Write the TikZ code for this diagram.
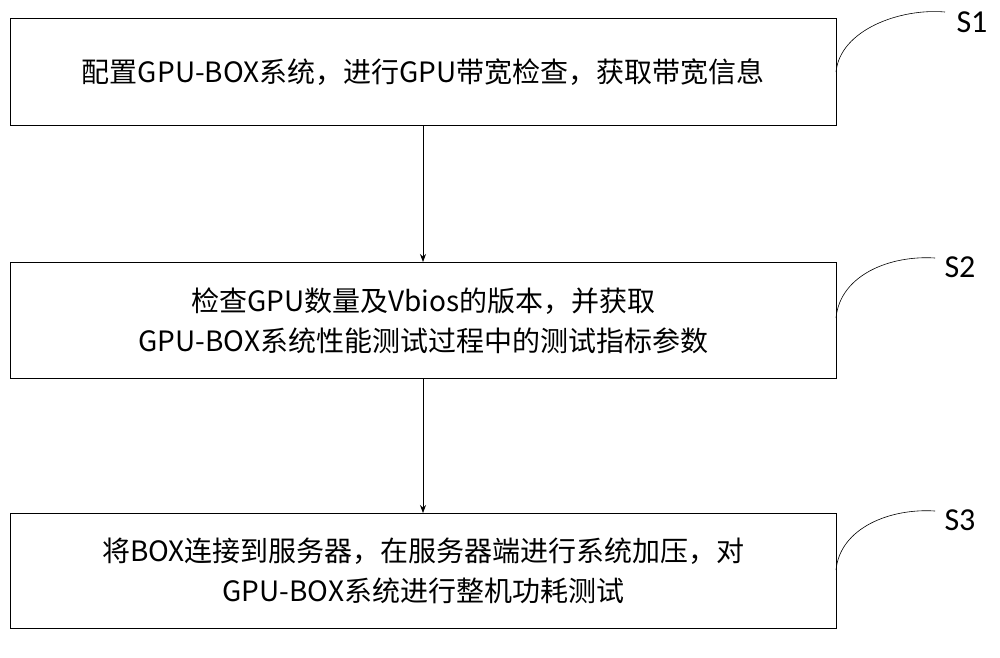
\documentclass[tikz,border=0pt]{standalone}
\usepackage{fontspec}
\setmainfont{Noto Sans CJK SC}
\newfontfamily\slfont{Carlito}
\usetikzlibrary{arrows.meta}
\begin{document}
\begin{tikzpicture}[x=1pt,y=-1pt,
  stepbox/.style={draw,line width=0.8pt,minimum width=826pt,anchor=north west,inner sep=0},
  lbl/.style={font=\fontsize{28}{40}\selectfont,align=center},
  sl/.style={font=\fontsize{32}{36}\selectfont\slfont},
  arr/.style={-{Stealth[length=8pt,width=6pt]},line width=0.7pt}]
\useasboundingbox (0,0) rectangle (1000,657);
\node[stepbox,minimum height=107pt] (b1) at (10,18) {};
\node[stepbox,minimum height=116pt] (b2) at (10,262) {};
\node[stepbox,minimum height=115pt] (b3) at (10,513) {};
\node[lbl] at (b1.center) {配置GPU-BOX系统，进行GPU带宽检查，获取带宽信息};
\node[lbl] at (b2.center) {检查GPU数量及Vbios的版本，并获取\\GPU-BOX系统性能测试过程中的测试指标参数};
\node[lbl] at (b3.center) {将BOX连接到服务器，在服务器端进行系统加压，对\\GPU-BOX系统进行整机功耗测试};
\draw[arr] (423,125) -- (423,262);
\draw[arr] (423,378) -- (423,513);
\node[sl] (s1) at (972,22) {S1};
\node[sl] (s2) at (960,267) {S2};
\node[sl] (s3) at (960,520) {S3};
\draw[line width=0.6pt] (836,72) .. controls (840,30) and (900,8) .. (945,12);
\draw[line width=0.6pt] (836,318) .. controls (840,275) and (890,255) .. (935,258);
\draw[line width=0.6pt] (836,570) .. controls (840,528) and (890,508) .. (935,511);
\end{tikzpicture}
\end{document}
